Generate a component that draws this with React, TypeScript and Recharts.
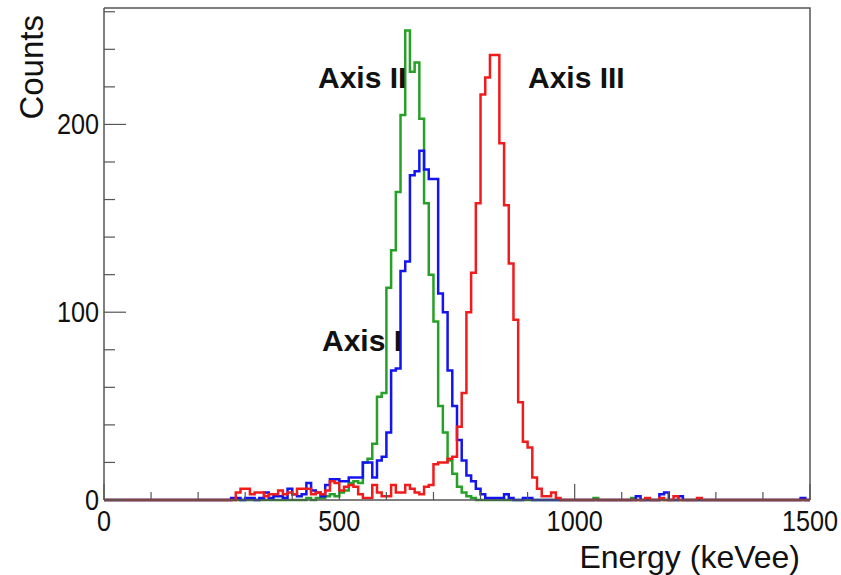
import { LineChart, Line, XAxis, YAxis } from 'recharts'

// histogram bins, 10 keVee wide; each array starts at the given energy
const BIN = 10

const greenStart = 420
const greenCounts = [
  0, 1, 0, 1, 1, 2, 3, 2, 4, 5, 9, 10, 9, 20, 22, 30, 55, 57, 113, 133,
  164, 205, 250, 228, 233, 203, 158, 120, 95, 50, 36, 21, 14, 7, 4, 2, 1, 0,
]

const blueStart = 270
const blueCounts = [
  1, 1, 0, 1, 1, 0, 1, 4, 1, 2, 2, 1, 6, 3, 2, 3, 9, 5, 4, 2,
  8, 11, 11, 10, 10, 12, 12, 12, 20, 20, 12, 21, 23, 36, 69, 70, 122, 127, 173, 175,
  186, 176, 171, 171, 110, 100, 69, 50, 32, 21, 13, 10, 6, 3, 1, 1, 1, 1, 3, 1,
  0, 0, 1, 1, 0, 0, 0, 0,
]

const redStart = 270
const redCounts = [
  0, 4, 6, 6, 3, 4, 4, 2, 3, 3, 5, 3, 4, 3, 6, 6, 6, 3, 4, 3,
  5, 10, 9, 5, 7, 8, 7, 3, 1, 1, 8, 4, 2, 2, 8, 4, 4, 8, 6, 4,
  3, 7, 8, 19, 20, 20, 22, 23, 39, 57, 100, 121, 158, 216, 225, 237, 237, 190, 157, 126,
  96, 52, 31, 28, 12, 6, 2, 2, 4, 1, 0,
]

// a few isolated counts in the high-energy tail
const blueTailE = [1130, 1180, 1190, 1220, 1480]
const blueTailN = [2, 3, 4, 2, 1]
const redTailE = [1150, 1180, 1210, 1260]
const redTailN = [1, 1, 2, 1]
const greenTailE = [1040, 1120]
const greenTailN = [1, 1]

const xTicks = [0, 100, 200, 300, 400, 500, 600, 700, 800, 900, 1000, 1100, 1200, 1300, 1400, 1500]
const yTicks = [0, 20, 40, 60, 80, 100, 120, 140, 160, 180, 200, 220, 240, 260]
const xMajor = [0, 500, 1000, 1500]
const yMajor = [0, 100, 200]

const countAt = (start: number, counts: number[], tailE: number[], tailN: number[], e: number) => {
  const i = (e - start) / BIN
  if (i >= 0 && i < counts.length) return counts[i]
  const t = tailE.indexOf(e)
  return t >= 0 ? tailN[t] : 0
}

const data: { e: number; green: number; blue: number; red: number }[] = []
for (let e = 0; e <= 1500; e += BIN) {
  data.push({
    e,
    green: countAt(greenStart, greenCounts, greenTailE, greenTailN, e),
    blue: countAt(blueStart, blueCounts, blueTailE, blueTailN, e),
    red: countAt(redStart, redCounts, redTailE, redTailN, e),
  })
}

const W = 841
const H = 575
const LEFT = 104
const RIGHT = 810
const TOP = 8
const BOTTOM = 500
const AXIS = '#555'
const FONT = '"Liberation Sans", Arial, Helvetica, sans-serif'

// tick labels are a bit narrow in the original, so squeeze them horizontally
const XTick = ({ x, payload }: any) => {
  const major = xMajor.includes(payload.value)
  return (
    <g>
      <line x1={x} x2={x} y1={BOTTOM} y2={BOTTOM - (major ? 16 : 8)} stroke={AXIS} strokeWidth={1.2} />
      {major && (
        <text
          transform={`translate(${x},${BOTTOM + 31}) scale(0.87,1)`}
          textAnchor="middle"
          fontSize={29}
          fontFamily={FONT}
          fill="#111"
        >
          {payload.value}
        </text>
      )}
    </g>
  )
}

const YTick = ({ y, payload }: any) => {
  const major = yMajor.includes(payload.value)
  return (
    <g>
      <line x1={LEFT} x2={LEFT + (major ? 22 : 11)} y1={y} y2={y} stroke={AXIS} strokeWidth={1.2} />
      {major && (
        <text
          transform={`translate(${LEFT - 5},${y + 10}) scale(0.87,1)`}
          textAnchor="end"
          fontSize={29}
          fontFamily={FONT}
          fill="#111"
        >
          {payload.value}
        </text>
      )}
    </g>
  )
}

export default function App() {
  return (
    <div style={{ position: 'absolute', left: 0, top: 0, width: W, height: H, background: '#fff' }}>
      <LineChart
        width={W}
        height={H}
        data={data}
        margin={{ top: TOP, right: W - RIGHT, bottom: 0, left: 0 }}
      >
        <XAxis
          dataKey="e"
          type="number"
          domain={[0, 1500]}
          ticks={xTicks}
          interval={0}
          tick={<XTick />}
          tickSize={0}
          tickLine={false}
          height={H - BOTTOM}
          axisLine={{ stroke: AXIS, strokeWidth: 1.5 }}
        />
        <YAxis
          type="number"
          domain={[0, 262]}
          ticks={yTicks}
          interval={0}
          tick={<YTick />}
          tickSize={0}
          tickLine={false}
          width={LEFT}
          axisLine={{ stroke: AXIS, strokeWidth: 1.5 }}
        />
        <Line type="stepAfter" dataKey="green" stroke="#27a027" strokeWidth={2.5} dot={false} isAnimationActive={false} />
        <Line type="stepAfter" dataKey="blue" stroke="#1414ee" strokeWidth={2.5} dot={false} isAnimationActive={false} />
        <Line type="stepAfter" dataKey="red" stroke="#f01c1c" strokeWidth={2.5} dot={false} isAnimationActive={false} />
      </LineChart>
      <svg
        width={W}
        height={H}
        style={{ position: 'absolute', left: 0, top: 0, pointerEvents: 'none' }}
        fontFamily={FONT}
      >
        <polyline points={`${LEFT},${TOP} ${RIGHT},${TOP} ${RIGHT},${BOTTOM}`} fill="none" stroke={AXIS} strokeWidth={1.5} />
        <text transform={`translate(43,15) rotate(-90)`} textAnchor="end" fontSize={33} fill="#111">
          Counts
        </text>
        <text x={800} y={568} textAnchor="end" fontSize={32} fill="#111">
          Energy (keVee)
        </text>
        <text x={318} y={88} fontSize={30} fontWeight="bold" fill="#111">
          Axis II
        </text>
        <text x={528} y={88} fontSize={30} fontWeight="bold" fill="#111">
          Axis III
        </text>
        <text x={322} y={351} fontSize={30} fontWeight="bold" fill="#111">
          Axis I
        </text>
      </svg>
    </div>
  )
}
